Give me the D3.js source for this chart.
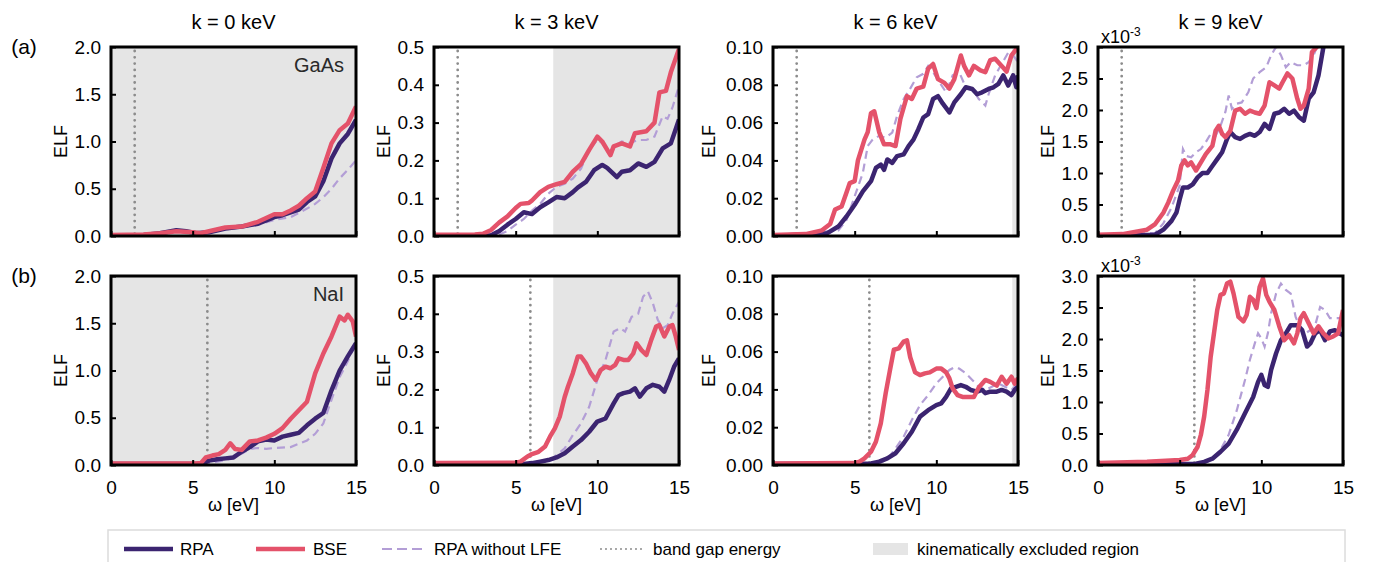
<!DOCTYPE html>
<html>
<head>
<meta charset="utf-8">
<script src="https://cdn.jsdelivr.net/npm/d3@7"></script>
<style>
  body { margin: 0; background: #fff; }
  svg { font-family: "Liberation Sans", Arial, sans-serif; }
</style>
</head>
<body>
<svg id="chart" width="1381" height="562"></svg>
<script>
// ---- data: [omega (eV), ELF] ----
var kLabels = ["k = 0 keV", "k = 3 keV", "k = 6 keV", "k = 9 keV"];
var rowLabels = ["(a)", "(b)"];
var materials = ["GaAs", "NaI"];
var bandGap = [1.45, 5.9];
var excludedFrom = [0, 7.3, 14.65, null];   // grey region from this omega to 15
var yMax = [2.0, 0.5, 0.1, 3.0];
var yTicks = [[0, 0.5, 1, 1.5, 2], [0, 0.1, 0.2, 0.3, 0.4, 0.5], [0, 0.02, 0.04, 0.06, 0.08, 0.1], [0, 0.5, 1, 1.5, 2, 2.5, 3]];
var yFormats = [".1f", ".1f", ".2f", ".1f"];
var xTicks = [0, 5, 10, 15];

// GaAs
var gaasK0Rpa = [[0,0.005],[2,0.01],[3,0.03],[4,0.06],[4.6,0.05],[5.2,0.03],[6,0.04],[7,0.08],[8,0.1],[9,0.13],[10,0.2],[10.5,0.22],[11,0.25],[11.5,0.28],[12,0.36],[12.5,0.42],[13,0.58],[13.5,0.82],[14,0.98],[14.5,1.08],[15,1.23]];
var gaasK0Bse = [[0,0.01],[2,0.015],[3,0.03],[4,0.05],[5,0.04],[5.5,0.03],[6,0.05],[7,0.09],[8,0.1],[9,0.15],[10,0.23],[10.5,0.23],[11,0.27],[11.5,0.32],[12,0.4],[12.5,0.47],[13,0.72],[13.5,0.98],[14,1.12],[14.5,1.19],[15,1.37]];
var gaasK0Nolfe = [[0,0.005],[3,0.02],[4,0.05],[5,0.03],[6,0.04],[7,0.07],[8,0.09],[9,0.12],[10,0.17],[11,0.2],[12,0.29],[12.5,0.34],[13,0.41],[13.5,0.5],[14,0.61],[14.5,0.7],[15,0.8]];

var gaasK3Rpa = [[0,0],[3.5,0.002],[4,0.013],[4.5,0.03],[5,0.045],[5.5,0.063],[6,0.058],[6.5,0.076],[7,0.089],[7.5,0.103],[8,0.1],[8.5,0.116],[8.8,0.128],[9.3,0.143],[9.8,0.174],[10.3,0.188],[10.6,0.18],[11.2,0.156],[11.5,0.17],[12,0.174],[12.5,0.192],[13,0.183],[13.5,0.196],[14,0.232],[14.5,0.245],[15,0.308]];
var gaasK3Bse = [[0,0.003],[2.5,0.004],[3,0.006],[3.5,0.016],[4,0.036],[4.5,0.052],[5,0.074],[5.3,0.085],[5.8,0.087],[6,0.094],[6.5,0.116],[7,0.13],[7.5,0.137],[8,0.143],[8.5,0.17],[9,0.19],[9.5,0.228],[10,0.263],[10.3,0.25],[10.8,0.214],[11,0.237],[11.5,0.245],[12,0.237],[12.3,0.272],[13,0.277],[13.5,0.3],[13.8,0.38],[14.2,0.384],[14.5,0.433],[15,0.495]];
var gaasK3Nolfe = [[0,0],[4,0.004],[4.5,0.013],[5,0.03],[5.5,0.045],[6,0.067],[6.5,0.085],[7,0.112],[7.5,0.13],[8,0.138],[8.5,0.152],[9,0.178],[9.5,0.228],[10,0.254],[10.3,0.246],[10.7,0.22],[11,0.237],[11.5,0.25],[12,0.246],[12.5,0.254],[13,0.254],[13.5,0.263],[14,0.317],[14.3,0.31],[14.6,0.34],[15,0.397]];

var gaasK6Rpa = [[0,0],[3.3,0.0014],[4,0.005],[4.5,0.0103],[5,0.0165],[5.5,0.0236],[6,0.029],[6.3,0.036],[6.6,0.0378],[6.8,0.035],[7,0.0405],[7.3,0.0387],[7.6,0.0423],[8,0.0432],[8.3,0.0476],[8.6,0.051],[8.9,0.0565],[9.2,0.0627],[9.5,0.0645],[9.8,0.0725],[10.1,0.074],[10.4,0.07],[10.8,0.0654],[11.1,0.0707],[11.5,0.075],[11.8,0.0787],[12.2,0.0778],[12.5,0.075],[12.8,0.076],[13.2,0.0778],[13.5,0.0787],[13.8,0.0805],[14.1,0.085],[14.4,0.0796],[14.7,0.085],[14.9,0.0787],[15,0.085]];
var gaasK6Bse = [[0,0.0005],[2,0.001],[3,0.003],[3.5,0.0064],[3.8,0.014],[4.2,0.0156],[4.5,0.023],[4.7,0.028],[5,0.029],[5.2,0.04],[5.6,0.051],[5.8,0.055],[6,0.065],[6.2,0.066],[6.5,0.055],[6.8,0.0485],[7.2,0.0485],[7.5,0.0476],[7.8,0.062],[8.2,0.074],[8.5,0.0725],[8.8,0.078],[9.2,0.079],[9.5,0.0885],[9.8,0.091],[10.1,0.083],[10.5,0.081],[10.8,0.078],[11.1,0.083],[11.5,0.0955],[11.7,0.09],[12,0.085],[12.3,0.09],[12.7,0.0876],[13,0.0867],[13.3,0.093],[13.6,0.0938],[14,0.09],[14.3,0.087],[14.6,0.0956],[15,0.1]];
var gaasK6Nolfe = [[0,0],[4,0.003],[4.5,0.0085],[5,0.021],[5.5,0.0334],[5.8,0.0476],[6.1,0.051],[6.5,0.053],[6.9,0.052],[7.3,0.0547],[7.6,0.0636],[8,0.0725],[8.4,0.078],[8.8,0.084],[9.2,0.0858],[9.5,0.09],[9.8,0.0867],[10.2,0.0813],[10.6,0.076],[11,0.085],[11.4,0.0867],[11.8,0.0787],[12.2,0.078],[12.6,0.0725],[13,0.069],[13.2,0.075],[13.6,0.085],[14,0.091],[14.4,0.097],[14.7,0.0956],[15,0.092]];

var gaasK9Rpa = [[0,0],[3.5,0.02],[4,0.1],[4.5,0.24],[4.8,0.37],[5,0.58],[5.2,0.77],[5.5,0.77],[5.8,0.82],[6.1,0.93],[6.4,1.0],[6.7,1.0],[7,1.11],[7.3,1.22],[7.6,1.33],[7.9,1.54],[8.1,1.65],[8.4,1.57],[8.7,1.54],[9,1.59],[9.3,1.62],[9.6,1.59],[9.9,1.65],[10.2,1.78],[10.5,1.7],[10.8,1.94],[11.1,1.96],[11.4,2.02],[11.7,1.94],[12,1.99],[12.3,1.89],[12.6,1.83],[12.9,2.18],[13.2,2.28],[13.5,2.55],[13.8,3.0],[14,3.3]];
var gaasK9Bse = [[0,0.02],[1.5,0.03],[3,0.1],[3.5,0.19],[4,0.37],[4.3,0.53],[4.6,0.72],[4.9,0.88],[5.1,1.12],[5.3,1.2],[5.5,1.12],[5.7,1.17],[6,1.04],[6.3,1.17],[6.6,1.3],[7,1.43],[7.2,1.67],[7.4,1.75],[7.6,1.62],[7.8,1.57],[8.1,1.67],[8.4,1.99],[8.7,2.02],[9,1.94],[9.3,1.99],[9.6,1.96],[9.9,1.94],[10.2,2.07],[10.5,2.44],[10.8,2.39],[11.1,2.34],[11.3,2.44],[11.6,2.58],[11.9,2.5],[12.2,2.18],[12.4,2.02],[12.6,2.07],[12.9,2.34],[13.1,2.92],[13.4,3.0],[13.6,3.2]];
var gaasK9Nolfe = [[0,0],[3.5,0.05],[4,0.2],[4.5,0.45],[5,0.8],[5.2,1.38],[5.4,1.27],[5.7,1.25],[6,1.33],[6.3,1.38],[6.6,1.49],[6.9,1.62],[7.2,1.59],[7.5,1.75],[7.8,1.97],[8,2.23],[8.2,2.02],[8.5,2.1],[8.8,2.12],[9.2,2.28],[9.5,2.5],[9.9,2.6],[10.3,2.68],[10.6,2.87],[10.9,3.0],[11.2,2.87],[11.5,2.68],[11.8,2.76],[12.2,2.71],[12.6,2.71],[12.9,2.76],[13.2,2.87],[13.4,3.0],[13.6,3.2]];

// NaI
var naiK0Rpa = [[0,0.01],[5.5,0.01],[6,0.046],[6.5,0.06],[7,0.07],[7.5,0.08],[8,0.14],[8.5,0.19],[9,0.25],[9.5,0.27],[10,0.26],[10.5,0.3],[11,0.32],[11.5,0.34],[12,0.42],[12.5,0.49],[13,0.55],[13.5,0.79],[14,1.0],[14.5,1.15],[15,1.29]];
var naiK0Bse = [[0,0.015],[5.2,0.015],[5.5,0.02],[5.8,0.08],[6.2,0.1],[6.6,0.115],[7,0.16],[7.3,0.23],[7.6,0.17],[8,0.16],[8.5,0.25],[9,0.26],[9.5,0.29],[10,0.33],[10.5,0.39],[11,0.49],[11.5,0.58],[12,0.67],[12.5,0.97],[13,1.18],[13.5,1.36],[14,1.57],[14.3,1.53],[14.5,1.59],[14.8,1.52],[15,1.36]];
var naiK0Nolfe = [[0,0.01],[5.5,0.01],[6,0.02],[7,0.05],[8,0.12],[8.5,0.17],[9,0.18],[9.5,0.17],[10,0.18],[11,0.19],[12,0.26],[12.5,0.33],[13,0.44],[13.5,0.69],[14,0.93],[14.5,1.1],[15,1.3]];

var naiK3Rpa = [[0,0.003],[5.5,0.003],[6,0.005],[6.5,0.009],[7,0.013],[7.5,0.02],[8,0.031],[8.5,0.049],[9,0.066],[9.5,0.088],[10,0.115],[10.5,0.123],[11,0.163],[11.3,0.185],[11.6,0.19],[12,0.194],[12.3,0.203],[12.6,0.181],[13,0.203],[13.4,0.212],[13.8,0.207],[14.1,0.194],[14.4,0.225],[14.7,0.26],[15,0.282]];
var naiK3Bse = [[0,0.005],[5,0.006],[5.3,0.009],[5.7,0.022],[6,0.029],[6.4,0.035],[6.8,0.049],[7.1,0.075],[7.4,0.097],[7.7,0.128],[8,0.18],[8.2,0.207],[8.5,0.243],[8.8,0.287],[9,0.287],[9.3,0.269],[9.6,0.243],[9.9,0.225],[10.2,0.251],[10.5,0.26],[10.8,0.256],[11.1,0.265],[11.3,0.282],[11.6,0.278],[11.9,0.278],[12.2,0.295],[12.4,0.322],[12.7,0.304],[13,0.291],[13.3,0.331],[13.6,0.366],[13.8,0.37],[14.1,0.34],[14.4,0.366],[14.6,0.37],[14.8,0.34],[15,0.304]];
var naiK3Nolfe = [[0,0.003],[6,0.004],[7,0.009],[7.5,0.026],[8,0.044],[8.5,0.079],[9,0.11],[9.5,0.154],[10,0.225],[10.5,0.278],[11,0.353],[11.4,0.362],[11.7,0.353],[12.1,0.392],[12.5,0.4],[12.8,0.445],[13.1,0.459],[13.4,0.428],[13.7,0.384],[14,0.362],[14.3,0.37],[14.6,0.4],[15,0.432]];

var naiK6Rpa = [[0,0.0005],[6,0.0008],[6.5,0.0018],[7,0.0035],[7.5,0.0062],[8,0.0115],[8.5,0.0176],[9,0.0256],[9.5,0.029],[10,0.0317],[10.3,0.0326],[10.6,0.036],[10.9,0.0405],[11.2,0.0414],[11.5,0.0423],[11.8,0.0414],[12.1,0.0397],[12.5,0.0388],[12.8,0.0397],[13,0.038],[13.3,0.0388],[13.7,0.0388],[14,0.0397],[14.3,0.0388],[14.6,0.037],[14.8,0.0397],[15,0.0414]];
var naiK6Bse = [[0,0.0008],[5,0.001],[5.3,0.0018],[5.6,0.0035],[6,0.007],[6.3,0.0123],[6.6,0.022],[6.9,0.038],[7.2,0.052],[7.4,0.061],[7.7,0.0617],[8,0.0653],[8.2,0.066],[8.4,0.057],[8.7,0.049],[9,0.0476],[9.3,0.0485],[9.6,0.049],[10,0.051],[10.3,0.051],[10.6,0.049],[10.8,0.0458],[11,0.0405],[11.3,0.037],[11.6,0.036],[12,0.036],[12.3,0.036],[12.6,0.041],[13,0.045],[13.3,0.044],[13.7,0.042],[14,0.0467],[14.3,0.043],[14.6,0.0467],[14.8,0.043],[15,0.046]];
var naiK6Nolfe = [[0,0.0005],[6.5,0.0008],[7,0.003],[7.5,0.0088],[8,0.015],[8.5,0.0238],[9,0.0317],[9.5,0.037],[10,0.0432],[10.4,0.0467],[10.8,0.0503],[11.1,0.0517],[11.4,0.051],[11.8,0.0485],[12.2,0.045],[12.6,0.0414],[13,0.0397],[13.4,0.0414],[13.8,0.0432],[14.2,0.0414],[14.6,0.0397],[15,0.0432]];

var naiK9Rpa = [[0,0.01],[6,0.02],[6.5,0.05],[7,0.1],[7.5,0.21],[8,0.34],[8.5,0.56],[9,0.82],[9.5,1.08],[9.8,1.32],[10,1.43],[10.2,1.27],[10.4,1.24],[10.6,1.51],[10.9,1.77],[11.2,1.98],[11.5,2.09],[11.8,2.22],[12.2,2.22],[12.5,2.14],[12.8,1.88],[13,1.93],[13.3,2.09],[13.6,2.14],[13.9,1.98],[14.2,2.12],[14.5,2.14],[14.8,2.09],[15,2.06]];
var naiK9Bse = [[0,0.03],[3,0.05],[5,0.08],[5.5,0.1],[5.8,0.16],[6.1,0.29],[6.3,0.48],[6.5,0.77],[6.7,1.19],[6.9,1.72],[7.1,2.09],[7.3,2.46],[7.5,2.7],[7.7,2.72],[7.9,2.88],[8.1,2.91],[8.3,2.72],[8.6,2.35],[8.9,2.28],[9.1,2.38],[9.3,2.67],[9.5,2.62],[9.7,2.49],[9.9,2.83],[10.1,2.96],[10.3,2.7],[10.5,2.59],[10.8,2.46],[11.1,2.2],[11.4,1.98],[11.7,2.06],[12,1.93],[12.2,2.09],[12.4,2.33],[12.6,2.41],[12.9,2.25],[13.2,2.09],[13.5,2.2],[13.8,2.09],[14.1,2.01],[14.4,2.04],[14.7,2.09],[15,2.46]];
var naiK9Nolfe = [[0,0.01],[6.5,0.03],[7,0.09],[7.5,0.24],[8,0.48],[8.5,0.87],[9,1.35],[9.3,1.67],[9.6,1.93],[9.8,2.09],[10,2.01],[10.2,1.88],[10.4,2.09],[10.6,2.41],[10.9,2.72],[11.2,2.88],[11.5,2.78],[11.8,2.72],[12.1,2.35],[12.4,2.17],[12.7,2.09],[13,2.14],[13.3,2.22],[13.6,2.51],[13.9,2.46],[14.2,2.33],[14.5,2.33],[14.8,2.33],[15,2.35]];

var rpaSeries = [[gaasK0Rpa, gaasK3Rpa, gaasK6Rpa, gaasK9Rpa], [naiK0Rpa, naiK3Rpa, naiK6Rpa, naiK9Rpa]];
var bseSeries = [[gaasK0Bse, gaasK3Bse, gaasK6Bse, gaasK9Bse], [naiK0Bse, naiK3Bse, naiK6Bse, naiK9Bse]];
var nolfeSeries = [[gaasK0Nolfe, gaasK3Nolfe, gaasK6Nolfe, gaasK9Nolfe], [naiK0Nolfe, naiK3Nolfe, naiK6Nolfe, naiK9Nolfe]];

// ---- layout ----
var colRPA = "#3b2470", colBSE = "#e4526a", colNolfe = "#b39ed6", colGap = "#8c8c8c", colExcl = "#e5e5e5";
var panelLeft = [111, 434, 773, 1098];
var panelW = 245;
var rowTop = [47, 276];
var panelH = 189;
var ylabelOffset = [50, 50, 64, 50];
var tickFont = 19;

var svg = d3.select("#chart");

rowLabels.forEach(function(t, r) {
  svg.append("text").attr("x", 24).attr("y", rowTop[r] + 7)
    .attr("text-anchor", "middle").attr("font-size", 21).text(t);
});

kLabels.forEach(function(t, c) {
  svg.append("text").attr("x", panelLeft[c] + panelW / 2).attr("y", 29)
    .attr("text-anchor", "middle").attr("font-size", 20).text(t);
});

for (var r = 0; r < 2; r++) {
  for (var c = 0; c < 4; c++) {
    var g = svg.append("g").attr("transform", "translate(" + panelLeft[c] + "," + rowTop[r] + ")");
    var x = d3.scaleLinear().domain([0, 15]).range([0, panelW]);
    var y = d3.scaleLinear().domain([0, yMax[c]]).range([panelH, 0]);
    var clipId = "clip" + r + c;
    g.append("clipPath").attr("id", clipId).append("rect")
      .attr("width", panelW).attr("height", panelH);

    // kinematically excluded region
    if (excludedFrom[c] !== null) {
      g.append("rect").attr("x", x(excludedFrom[c])).attr("y", 0)
        .attr("width", x(15) - x(excludedFrom[c])).attr("height", panelH)
        .attr("fill", colExcl);
    }

    // band gap
    g.append("line").attr("x1", x(bandGap[r])).attr("x2", x(bandGap[r]))
      .attr("y1", 4).attr("y2", panelH)
      .attr("stroke", colGap).attr("stroke-width", 2.8)
      .attr("stroke-linecap", "round").attr("stroke-dasharray", "0,6.3");

    var line = d3.line().x(function(d) { return x(d[0]); })
      .y(function(d) { return y(d[1]); });

    var lines = g.append("g").attr("clip-path", "url(#" + clipId + ")");
    lines.append("path").datum(nolfeSeries[r][c]).attr("d", line)
      .attr("fill", "none").attr("stroke", colNolfe).attr("stroke-width", 2.2)
      .attr("stroke-dasharray", "8,5");
    lines.append("path").datum(rpaSeries[r][c]).attr("d", line)
      .attr("fill", "none").attr("stroke", colRPA).attr("stroke-width", 4.5)
      .attr("stroke-linejoin", "round");
    lines.append("path").datum(bseSeries[r][c]).attr("d", line)
      .attr("fill", "none").attr("stroke", colBSE).attr("stroke-width", 4.5)
      .attr("stroke-linejoin", "round");

    // axes
    var yAxis = d3.axisLeft(y).tickValues(yTicks[c]).tickFormat(d3.format(yFormats[c]))
      .tickSizeInner(-5).tickSizeOuter(0).tickPadding(10);
    var ya = g.append("g").call(yAxis);
    ya.select(".domain").remove();
    ya.selectAll("line").attr("stroke", "#000").attr("stroke-width", 2);
    ya.selectAll("text").attr("font-size", tickFont).attr("fill", "#000")
      .attr("font-family", "Liberation Sans, Arial, sans-serif");

    var xAxis = d3.axisBottom(x).tickValues(xTicks).tickSizeInner(-5).tickSizeOuter(0).tickPadding(16)
      .tickFormat(r === 1 ? d3.format("d") : function() { return ""; });
    var xa = g.append("g").attr("transform", "translate(0," + panelH + ")").call(xAxis);
    xa.select(".domain").remove();
    xa.selectAll("line").attr("stroke", "#000").attr("stroke-width", 2);
    xa.selectAll("text").attr("font-size", tickFont).attr("fill", "#000")
      .attr("font-family", "Liberation Sans, Arial, sans-serif");

    // frame
    g.append("rect").attr("width", panelW).attr("height", panelH)
      .attr("fill", "none").attr("stroke", "#000").attr("stroke-width", 3);

    // y label
    g.append("text").attr("transform", "translate(" + (-ylabelOffset[c]) + "," + (panelH / 2) + ") rotate(-90)")
      .attr("text-anchor", "middle").attr("dy", "0.35em").attr("font-size", 18).text("ELF");

    if (r === 1) {
      g.append("text").attr("x", panelW / 2).attr("y", panelH + 46)
        .attr("text-anchor", "middle").attr("font-size", 18).text("ω [eV]");
    }

    if (c === 0) {
      g.append("text").attr("x", panelW - 12).attr("y", 25)
        .attr("text-anchor", "end").attr("font-size", 20).attr("fill", "#2a2a2a").text(materials[r]);
    }

    if (c === 3) {
      var t = g.append("text").attr("x", 3).attr("y", -4).attr("font-size", 18);
      t.append("tspan").text("x10");
      t.append("tspan").attr("dy", -7).attr("font-size", 12).text("-3");
    }
  }
}

// ---- legend ----
var leg = svg.append("g");
leg.append("rect").attr("x", 108).attr("y", 530).attr("width", 1237).attr("height", 34)
  .attr("fill", "#fff").attr("stroke", "#dcdcdc").attr("stroke-width", 1.5);
var ly = 549;
var legFont = 17;
leg.append("line").attr("x1", 124).attr("x2", 173).attr("y1", ly).attr("y2", ly)
  .attr("stroke", colRPA).attr("stroke-width", 4.5);
leg.append("text").attr("x", 180).attr("y", ly).attr("dy", "0.35em").attr("font-size", legFont).text("RPA");
leg.append("line").attr("x1", 256).attr("x2", 305).attr("y1", ly).attr("y2", ly)
  .attr("stroke", colBSE).attr("stroke-width", 4.5);
leg.append("text").attr("x", 313).attr("y", ly).attr("dy", "0.35em").attr("font-size", legFont).text("BSE");
leg.append("line").attr("x1", 382).attr("x2", 426).attr("y1", ly).attr("y2", ly)
  .attr("stroke", colNolfe).attr("stroke-width", 2.2).attr("stroke-dasharray", "10,5");
leg.append("text").attr("x", 434).attr("y", ly).attr("dy", "0.35em").attr("font-size", legFont).text("RPA without LFE");
leg.append("line").attr("x1", 601).attr("x2", 645).attr("y1", ly).attr("y2", ly)
  .attr("stroke", colGap).attr("stroke-width", 2).attr("stroke-linecap", "round").attr("stroke-dasharray", "0,5");
leg.append("text").attr("x", 653).attr("y", ly).attr("dy", "0.35em").attr("font-size", legFont).text("band gap energy");
leg.append("rect").attr("x", 873).attr("y", ly - 6).attr("width", 35).attr("height", 12).attr("fill", colExcl);
leg.append("text").attr("x", 917).attr("y", ly).attr("dy", "0.35em").attr("font-size", legFont).text("kinematically excluded region");
</script>
</body>
</html>
